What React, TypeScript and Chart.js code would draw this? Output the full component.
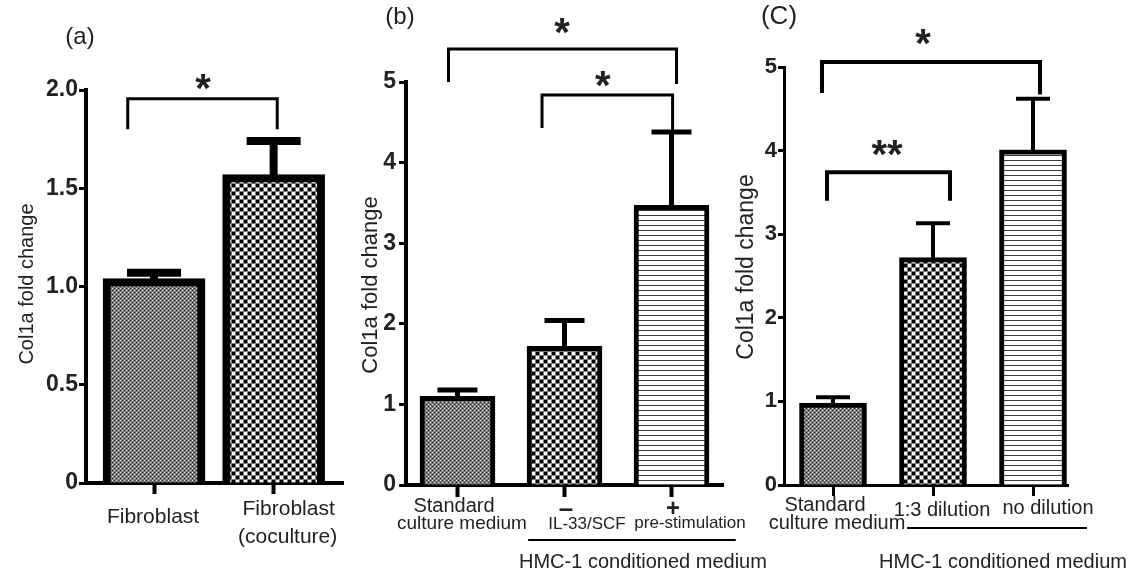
import React, { useEffect, useRef } from 'react';
import { Chart, registerables } from 'chart.js';

Chart.register(...registerables);

const FONT = "'Liberation Sans', Arial, Helvetica, sans-serif";
const INK = '#222';

// ---------- Panel (a) ----------
const catsA = [['Fibroblast'], ['Fibroblast', '(coculture)']];
const valuesA = [1.04, 1.57];
const errTopA = [1.07, 1.74];
const yTicksA = [0, 0.5, 1.0, 1.5, 2.0];

// ---------- Panel (b) ----------
const catsB = [['Standard', 'culture medium'], ['–', 'IL-33/SCF'], ['+', 'pre-stimulation']];
const valuesB = [1.10, 1.72, 3.47];
const errTopB = [1.18, 2.04, 4.38];
const yTicksB = [0, 1, 2, 3, 4, 5];
const groupB = 'HMC-1 conditioned medium';

// ---------- Panel (c) ----------
const catsC = [['Standard', 'culture medium'], ['1:3 dilution'], ['no dilution']];
const valuesC = [0.98, 2.72, 4.01];
const errTopC = [1.05, 3.13, 4.62];
const yTicksC = [0, 1, 2, 3, 4, 5];
const groupC = 'HMC-1 conditioned medium';

const yTitle = 'Col1a fold change';

type Bracket = { x1: number; x2: number; y: number; d1: number; d2: number; label: string; lx: number; ly: number };

const PANELS: any[] = [
  {
    key: 'a',
    cats: catsA, values: valuesA, errTop: errTopA, yTicks: yTicksA, decimals: 1,
    area: { left: 86, top: 90, right: 343, bottom: 483 },
    xMin: -0.569, xMax: 1.58, yMax: 2,
    tickSize: 23, tickPad: 1, tickLen: 7,
    axisW: 4, barThickness: 102, barBorder: 8,
    patterns: ['fine', 'checker'],
    errStem: 8, errCap: 8, capW: 54,
    xTickLen: 11, xTickW: 4,
    bracketW: 3, starSize: 40,
    brackets: [{ x1: -0.22, x2: 1.03, y: 1.955, d1: 1.8, d2: 1.8, label: '*', lx: 0.41, ly: 2.04 }] as Bracket[],
    letter: '(a)', letterPos: [80, 38], letterSize: 24,
    title: { bx: 33, cy: 284, size: 20, clip: 0 },
    layout: [[{ dx: -1, dy: 32, size: 21 }], [{ dx: 15, dy: 24, size: 21 }, { dx: 14, dy: 54, size: 21 }]],
    group: null,
  },
  {
    key: 'b',
    cats: catsB, values: valuesB, errTop: errTopB, yTicks: yTicksB, decimals: 0,
    area: { left: 406, top: 82, right: 723, bottom: 485 },
    xMin: -0.481, xMax: 2.481, yMax: 5,
    tickSize: 23, tickPad: 3, tickLen: 7,
    axisW: 4, barThickness: 75, barBorder: 5,
    patterns: ['fine', 'checker', 'lines'],
    errStem: 5, errCap: 5, capW: 40,
    xTickLen: 12, xTickW: 4,
    bracketW: 3, starSize: 40,
    brackets: [
      { x1: -0.084, x2: 2.047, y: 5.41, d1: 5.0, d2: 4.975, label: '*', lx: 0.977, ly: 5.695 },
      { x1: 0.79, x2: 2.01, y: 4.84, d1: 4.43, d2: 4.38, label: '*', lx: 1.358, ly: 5.04 },
    ] as Bracket[],
    letter: '(b)', letterPos: [400, 18], letterSize: 24,
    title: { bx: 377, cy: 285, size: 22, clip: 360 },
    layout: [
      [{ dx: -3.5, dy: 19, size: 20 }, { dx: 4.5, dy: 37, size: 19 }],
      [{ dx: 1.5, dy: 24, size: 26, bold: true }, { dx: 22.5, dy: 38, size: 17 }],
      [{ dx: 1.5, dy: 22, size: 24, bold: true }, { dx: 18.5, dy: 38, size: 17 }],
    ],
    group: { text: groupB, x1: 0.66, x2: 2.6, lineDy: 55, tx: 1.733, textDy: 75, size: 20 },
  },
  {
    key: 'c',
    cats: catsC, values: valuesC, errTop: errTopC, yTicks: yTicksC, decimals: 0,
    area: { left: 784, top: 67, right: 1068, bottom: 485 },
    xMin: -0.49, xMax: 2.35, yMax: 5,
    tickSize: 22, tickPad: 1, tickLen: 6,
    axisW: 3, barThickness: 67, barBorder: 5,
    patterns: ['fine', 'checker', 'lines'],
    errStem: 4, errCap: 4, capW: 34,
    xTickLen: 11, xTickW: 3,
    bracketW: 4, starSize: 40,
    brackets: [
      { x1: -0.11, x2: 2.07, y: 5.06, d1: 4.69, d2: 4.67, label: '*', lx: 0.9, ly: 5.36 },
      { x1: -0.06, x2: 1.17, y: 3.74, d1: 3.4, d2: 3.4, label: '**', lx: 0.54, ly: 4.03 },
    ] as Bracket[],
    letter: '(C)', letterPos: [779, 17], letterSize: 26,
    title: { bx: 753, cy: 267, size: 23, clip: 0 },
    layout: [
      [{ dx: -8, dy: 18, size: 20 }, { dx: 4, dy: 36, size: 20 }],
      [{ dx: 9, dy: 23, size: 20 }],
      [{ dx: 15, dy: 21, size: 20 }],
    ],
    group: { text: groupC, x1: 0.74, x2: 2.54, lineDy: 43, tx: 1.70, textDy: 75, size: 20 },
  },
];

function makePattern(kind: string): any {
  const c = document.createElement('canvas');
  const g = c.getContext('2d')!;
  if (kind === 'fine') {
    c.width = 4; c.height = 4;
    g.fillStyle = '#7a7a7a'; g.fillRect(0, 0, 4, 4);
    g.fillStyle = '#e4e4e4'; g.fillRect(0, 0, 1, 1); g.fillRect(2, 2, 1, 1);
    g.fillStyle = '#262626'; g.fillRect(2, 0, 1, 1); g.fillRect(0, 2, 1, 1);
  } else if (kind === 'checker') {
    c.width = 8; c.height = 8;
    g.fillStyle = '#7a7a7a'; g.fillRect(0, 0, 8, 8);
    g.fillStyle = '#000'; g.fillRect(0, 0, 3, 3); g.fillRect(4, 4, 3, 3);
    g.fillStyle = '#fff'; g.fillRect(4, 0, 3, 3); g.fillRect(0, 4, 3, 3);
  } else {
    c.width = 4; c.height = 5;
    g.fillStyle = '#fff'; g.fillRect(0, 0, 4, 5);
    g.fillStyle = '#3a3a3a'; g.fillRect(0, 0, 4, 1);
  }
  return g.createPattern(c, 'repeat');
}

function drawCentered(ctx: CanvasRenderingContext2D, text: string, x: number, y: number, font: string) {
  ctx.font = font;
  const m = ctx.measureText(text);
  const asc = m.actualBoundingBoxAscent;
  const desc = m.actualBoundingBoxDescent;
  ctx.textAlign = 'center';
  ctx.textBaseline = 'alphabetic';
  ctx.fillText(text, x, y + (asc - desc) / 2);
}

function makeDecoPlugin(p: any) {
  return {
    id: 'deco_' + p.key,
    afterDatasetsDraw(chart: any) {
      const ctx: CanvasRenderingContext2D = chart.ctx;
      const xs = chart.scales.x;
      const ys = chart.scales.y;
      const meta = chart.getDatasetMeta(0);
      const bottom = chart.chartArea.bottom;
      ctx.save();
      ctx.strokeStyle = '#000';
      ctx.fillStyle = INK;
      ctx.lineCap = 'butt';
      ctx.lineJoin = 'miter';

      // error bars (upper)
      p.errTop.forEach((e: number, i: number) => {
        const bar = meta.data[i];
        const cx = bar.x;
        const yTop = ys.getPixelForValue(e);
        const yBar = ys.getPixelForValue(p.values[i]);
        ctx.lineWidth = p.errStem;
        ctx.beginPath();
        ctx.moveTo(cx, yBar + p.barBorder / 2);
        ctx.lineTo(cx, yTop);
        ctx.stroke();
        ctx.lineWidth = p.errCap;
        ctx.beginPath();
        ctx.moveTo(cx - p.capW / 2, yTop);
        ctx.lineTo(cx + p.capW / 2, yTop);
        ctx.stroke();
      });

      // significance brackets
      p.brackets.forEach((b: Bracket) => {
        const x1 = xs.getPixelForValue(b.x1);
        const x2 = xs.getPixelForValue(b.x2);
        const y = ys.getPixelForValue(b.y);
        ctx.lineWidth = p.bracketW;
        ctx.beginPath();
        ctx.moveTo(x1, ys.getPixelForValue(b.d1));
        ctx.lineTo(x1, y);
        ctx.lineTo(x2, y);
        ctx.lineTo(x2, ys.getPixelForValue(b.d2));
        ctx.stroke();
        drawCentered(ctx, b.label, xs.getPixelForValue(b.lx), ys.getPixelForValue(b.ly), `bold ${p.starSize}px ${FONT}`);
      });

      // category labels
      p.cats.forEach((lines: string[], i: number) => {
        const cx = meta.data[i].x;
        lines.forEach((t: string, j: number) => {
          const L = p.layout[i][j];
          drawCentered(ctx, t, cx + L.dx, bottom + L.dy, `${L.bold ? 'bold ' : ''}${L.size}px ${FONT}`);
        });
      });

      // group label with line
      if (p.group) {
        const g = p.group;
        ctx.lineWidth = 2;
        ctx.beginPath();
        ctx.moveTo(xs.getPixelForValue(g.x1), bottom + g.lineDy);
        ctx.lineTo(xs.getPixelForValue(g.x2), bottom + g.lineDy);
        ctx.stroke();
        drawCentered(ctx, g.text, xs.getPixelForValue(g.tx), bottom + g.textDy, `${g.size}px ${FONT}`);
      }

      // panel letter
      drawCentered(ctx, p.letter, p.letterPos[0], p.letterPos[1], `${p.letterSize}px ${FONT}`);

      // y-axis title (rotated)
      ctx.save();
      if (p.title.clip) {
        ctx.beginPath();
        ctx.rect(p.title.clip, 0, 2000, 2000);
        ctx.clip();
      }
      ctx.translate(p.title.bx, p.title.cy);
      ctx.rotate(-Math.PI / 2);
      ctx.font = `${p.title.size}px ${FONT}`;
      ctx.textAlign = 'center';
      ctx.textBaseline = 'alphabetic';
      ctx.fillText(yTitle, 0, 0);
      ctx.restore();

      ctx.restore();
    },
  };
}

const YW = 60;
const XH = 20;

function buildChart(canvas: HTMLCanvasElement, p: any) {
  const bg = p.patterns.map((k: string) => makePattern(k));
  return new Chart(canvas, {
    type: 'bar',
    data: {
      datasets: [
        {
          data: p.values.map((v: number, i: number) => ({ x: i, y: v })),
          backgroundColor: bg,
          borderColor: '#000',
          borderWidth: p.barBorder,
          borderSkipped: 'start',
          barThickness: p.barThickness,
        } as any,
      ],
    },
    options: {
      animation: false,
      responsive: false,
      devicePixelRatio: 1,
      events: [],
      layout: {
        padding: {
          left: p.area.left - YW,
          right: 1143 - p.area.right,
          top: p.area.top,
          bottom: 572 - p.area.bottom - XH,
        },
      },
      plugins: {
        legend: { display: false },
        tooltip: { enabled: false },
        title: { display: false },
      },
      scales: {
        x: {
          type: 'linear',
          min: p.xMin,
          max: p.xMax,
          offset: false,
          grid: {
            display: true,
            offset: false,
            drawOnChartArea: false,
            drawTicks: true,
            tickLength: p.xTickLen,
            tickWidth: p.xTickW,
            tickColor: '#000',
            color: '#000',
          },
          border: { display: true, color: '#000', width: p.axisW },
          ticks: { display: false },
          afterBuildTicks: (s: any) => {
            s.ticks = p.values.map((_: number, i: number) => ({ value: i }));
          },
          afterFit: (s: any) => {
            s.height = XH;
          },
        },
        y: {
          type: 'linear',
          min: 0,
          max: p.yMax,
          grid: {
            display: true,
            drawOnChartArea: false,
            drawTicks: true,
            tickLength: p.tickLen,
            tickWidth: 3,
            tickColor: '#000',
            color: '#000',
          },
          border: { display: true, color: '#000', width: p.axisW },
          ticks: {
            color: INK,
            padding: p.tickPad,
            font: { family: FONT, size: p.tickSize, weight: 'bold' },
            callback: (v: any) => (Number(v) === 0 ? '0' : Number(v).toFixed(p.decimals)),
          },
          afterBuildTicks: (s: any) => {
            s.ticks = p.yTicks.map((v: number) => ({ value: v }));
          },
          afterFit: (s: any) => {
            s.width = YW;
          },
        },
      },
    } as any,
    plugins: [makeDecoPlugin(p)],
  });
}

export default function App() {
  const refs = useRef<(HTMLCanvasElement | null)[]>([]);
  useEffect(() => {
    const charts = PANELS.map((p, i) => buildChart(refs.current[i]!, p));
    return () => {
      charts.forEach((c) => c.destroy());
    };
  }, []);
  return (
    <div
      style={{
        position: 'absolute',
        left: 0,
        top: 0,
        width: 1143,
        height: 572,
        background: '#fff',
        overflow: 'hidden',
      }}
    >
      {PANELS.map((p, i) => (
        <canvas
          key={p.key}
          ref={(el) => {
            refs.current[i] = el;
          }}
          width={1143}
          height={572}
          style={{ position: 'absolute', left: 0, top: 0 }}
        />
      ))}
    </div>
  );
}
